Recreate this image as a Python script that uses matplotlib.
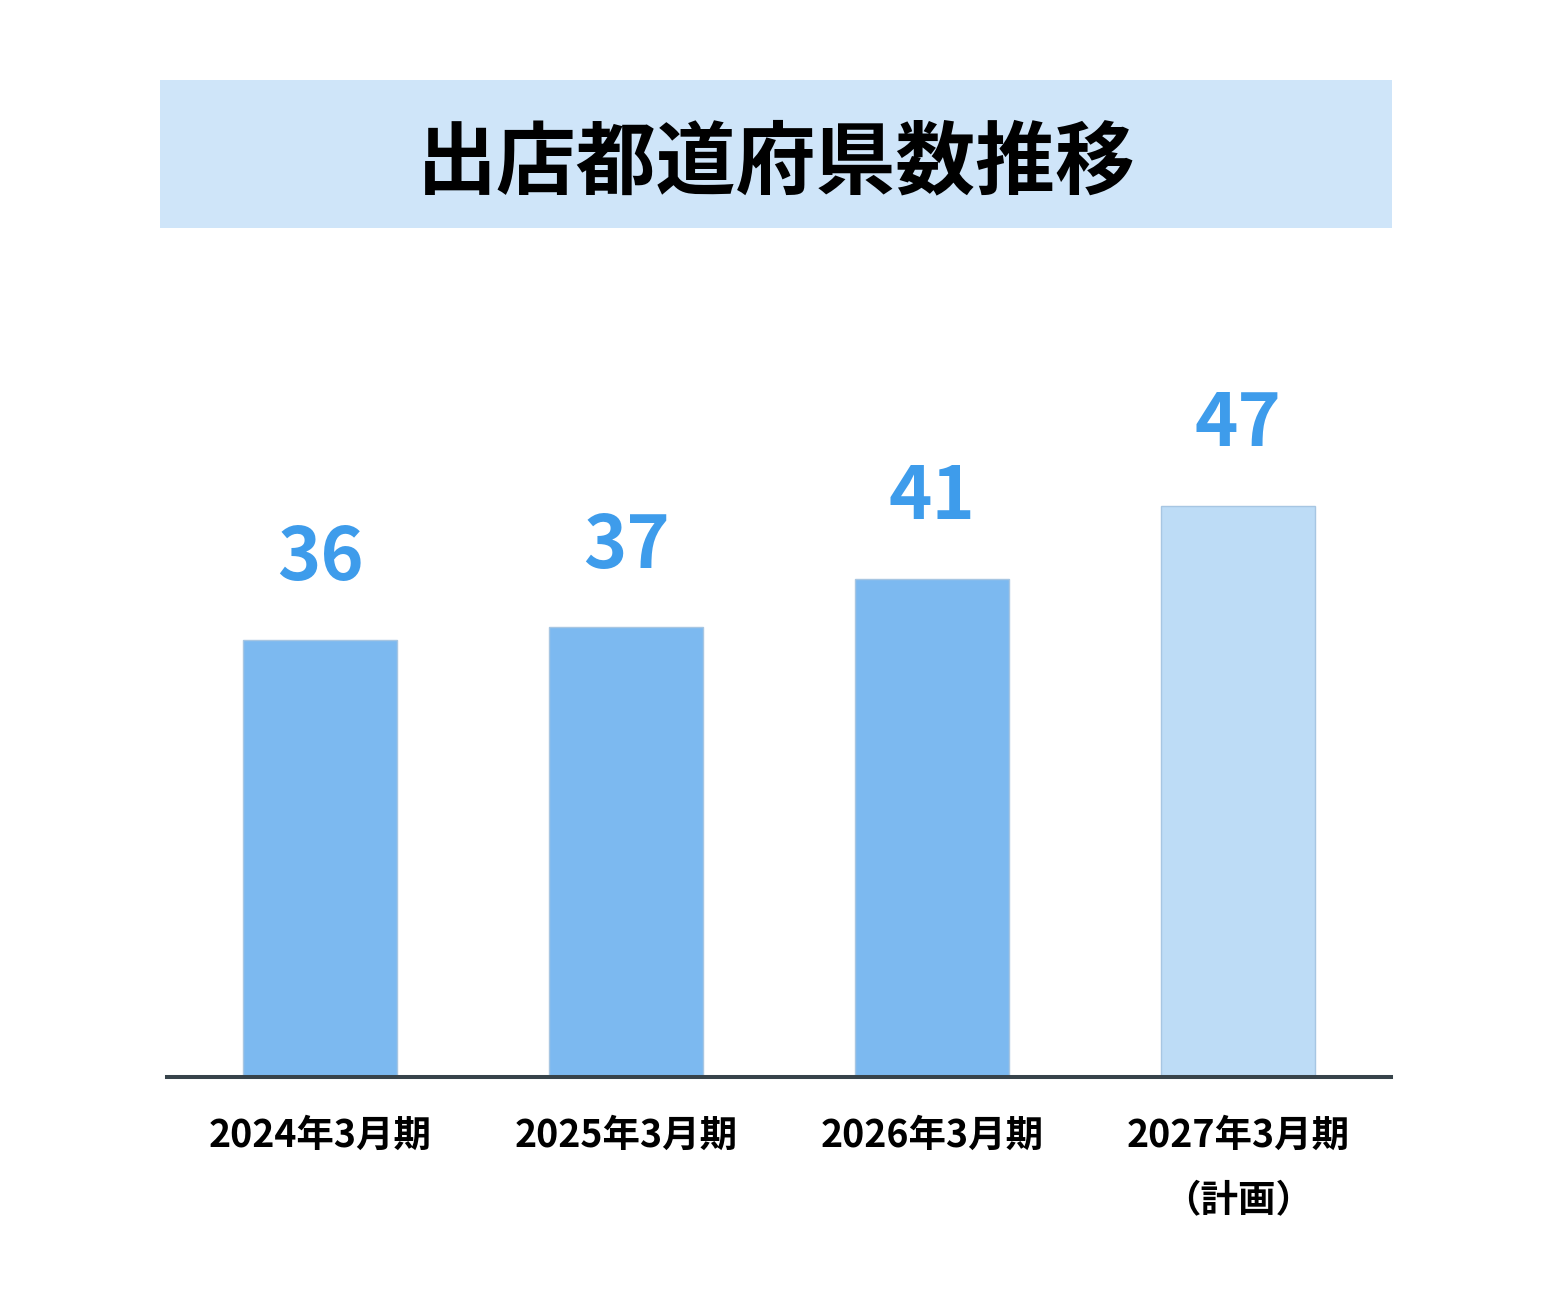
import matplotlib.pyplot as plt
from matplotlib.patches import Rectangle

plt.rcParams['font.family'] = ['Noto Sans CJK JP', 'DejaVu Sans']

periods = ["2024年3月期", "2025年3月期", "2026年3月期", "2027年3月期\n（計画）"]
counts = [36, 37, 41, 47]
bar_colors = ["#7cb9f0", "#7cb9f0", "#7cb9f0", "#bddcf6"]

fig = plt.figure(figsize=(15.52, 12.98), dpi=100)

# title banner
fig.patches.append(Rectangle((0.1031, 0.8243), 0.7938, 0.1140, transform=fig.transFigure,
                             facecolor="#cfe5f9", edgecolor="none", zorder=0))
fig.text(0.5, 0.8740, "出店都道府県数推移", ha="center", va="center",
         fontsize=57.5, fontweight="bold", color="#000000")

ax = fig.add_axes([0.1076, 0.1703, 0.7887, 0.6364])
x = range(len(periods))
bars = ax.bar(x, counts, width=0.503, color=bar_colors, edgecolor="#a7c6e2", linewidth=1)

for bar, val in zip(bars, counts):
    ax.annotate(f"{val}", (bar.get_x() + bar.get_width() / 2, bar.get_height()),
                xytext=(0, 43), textcoords="offset points", ha="center", va="baseline",
                fontsize=53, fontweight="bold", color="#3e9ceb")

ax.set_xlim(-0.5, 3.5)
ax.set_ylim(0, 68)
ax.set_xticks(list(x))
ax.set_xticklabels(periods, fontsize=27, fontweight="bold", linespacing=1.85)
ax.tick_params(axis="x", length=0, pad=28)
ax.set_yticks([])
for side in ["top", "left", "right"]:
    ax.spines[side].set_visible(False)
ax.spines["bottom"].set_color("#37434a")
ax.spines["bottom"].set_linewidth(2.9)

fig.savefig("out.png", dpi=100)
